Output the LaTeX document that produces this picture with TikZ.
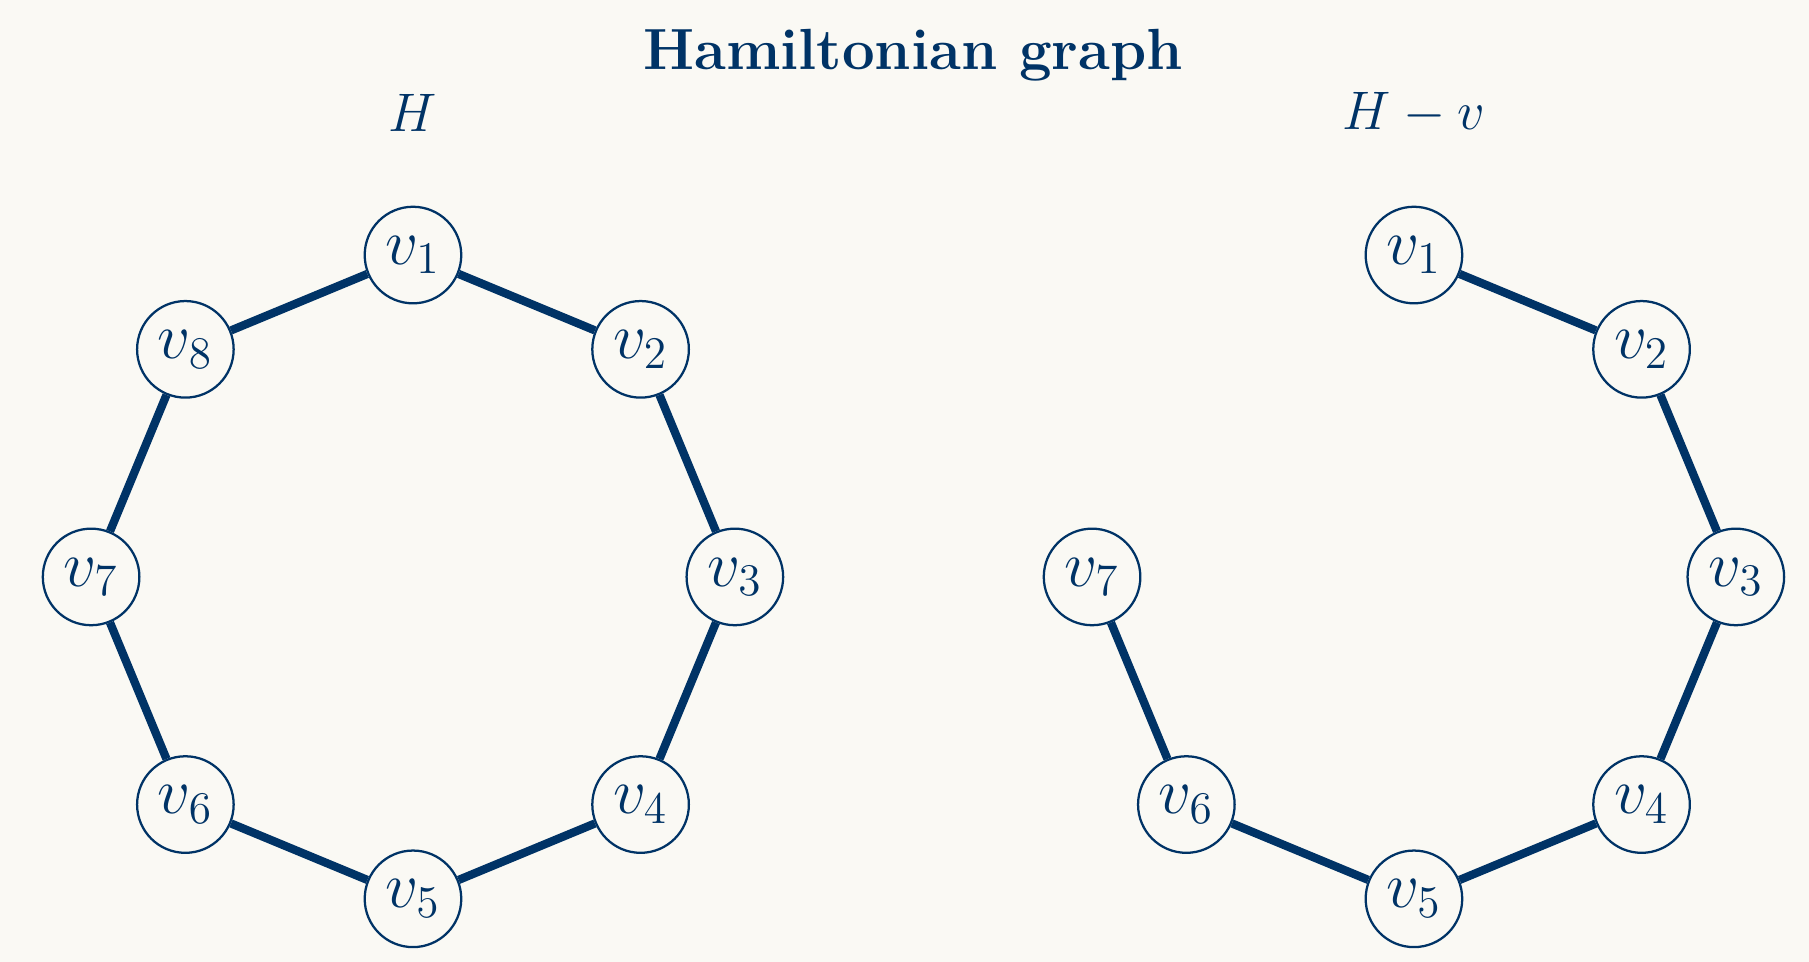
\documentclass[tikz,border=0pt]{standalone}
\usepackage{amsmath}
\definecolor{navy}{HTML}{003366}
\definecolor{paper}{HTML}{FAF9F4}

\begin{document}
\begin{tikzpicture}[line cap=round,
  vert/.style={circle, draw=navy, line width=0.6pt, fill=paper, text=navy,
    minimum size=0.9cm, inner sep=0pt, font=\LARGE},
  edge/.style={draw=navy, line width=2.2pt, line cap=butt}]
% Hintergrund
\fill[paper] (0,0) rectangle (16.86,8.965);
% Titel
\node[text=navy, font=\fontsize{15.4}{18}\selectfont\bfseries] (title) at (8.51,8.45) {Hamiltonian graph};
\node[text=navy, font=\fontsize{15.4}{18}\selectfont] (labH) at (3.849,7.91) {$H$};
\node[text=navy, font=\fontsize{15.8}{18}\selectfont] (labHv) at (13.178,7.91) {$H-v$};
% Graph H (Achteck)
\begin{scope}[shift={(3.849,3.588)}]
\foreach \i in {1,...,8} {
  \node[vert] (L\i) at ({90-45*(\i-1)}:3) {$v_{\i}$};
}
\end{scope}
\foreach \i/\j in {1/2, 2/3, 3/4, 4/5, 5/6, 6/7, 7/8, 8/1} {
  \draw[edge] (L\i) -- (L\j);
}
% Graph H - v (ohne v8)
\begin{scope}[shift={(13.178,3.588)}]
\foreach \i in {1,...,7} {
  \node[vert] (R\i) at ({90-45*(\i-1)}:3) {$v_{\i}$};
}
\end{scope}
\foreach \i/\j in {1/2, 2/3, 3/4, 4/5, 5/6, 6/7} {
  \draw[edge] (R\i) -- (R\j);
}
\end{tikzpicture}
\end{document}
